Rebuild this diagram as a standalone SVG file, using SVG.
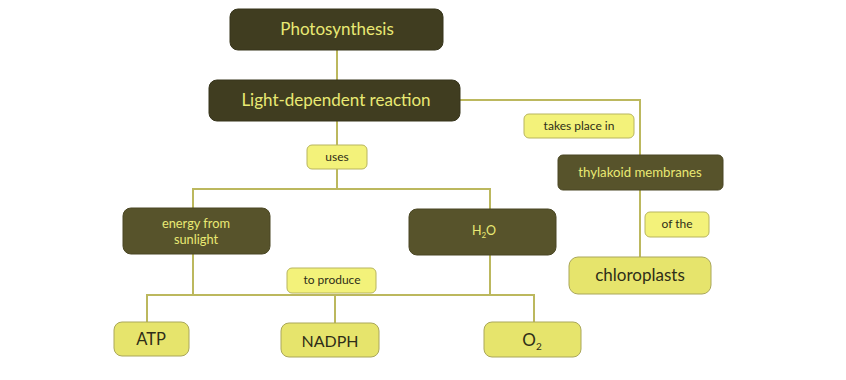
<svg xmlns="http://www.w3.org/2000/svg" width="846" height="380" viewBox="0 0 846 380">
<style>
.dark{fill:#57532b;stroke:#4a4724;stroke-width:1}
.top{fill:#403d20;stroke:#36341b;stroke-width:1}
.light{fill:#e6e46c;stroke:#aaa75a;stroke-width:1}
.lab{fill:#f3f27a;stroke:#b8b55e;stroke-width:1}
.conn{fill:none;stroke:#bcb85e;stroke-width:2}
text{font-family:"Lato","Liberation Sans",sans-serif;text-anchor:middle}
.td{fill:#e9e974}
.tl{fill:#2f2e18}
</style>
<rect width="846" height="380" fill="#ffffff"/>
<g id="connectors">
<path class="conn" d="M337 50V80"/>
<path class="conn" d="M460 100H640V155"/>
<path class="conn" d="M640 190V257"/>
<path class="conn" d="M337 121V145"/>
<path class="conn" d="M337 169V189"/>
<path class="conn" d="M193 208V189H490V209"/>
<path class="conn" d="M193 254V295"/>
<path class="conn" d="M490 255V295"/>
<path class="conn" d="M147 322V295H534V322"/>
<path class="conn" d="M335 295V323"/>
</g>
<g id="photosynthesis"><rect class="top" x="230" y="9" width="213" height="41" rx="8"/><text class="td" x="337" y="35" font-size="17">Photosynthesis</text></g>
<g id="light-dependent"><rect class="top" x="209" y="80" width="251" height="41" rx="8"/><text class="td" x="336" y="106" font-size="17">Light-dependent reaction</text></g>
<g id="takes-place-in"><rect class="lab" x="524" y="114" width="110" height="24" rx="5"/><text class="tl" x="579" y="130" font-size="12">takes place in</text></g>
<g id="thylakoid"><rect class="dark" x="558" y="155" width="165" height="35" rx="5"/><text class="td" x="640" y="177" font-size="13.2">thylakoid membranes</text></g>
<g id="of-the"><rect class="lab" x="645" y="212" width="64" height="25" rx="5"/><text class="tl" x="677" y="228" font-size="12">of the</text></g>
<g id="chloroplasts"><rect class="light" x="569" y="257" width="142" height="37" rx="9"/><text class="tl" x="640" y="281" font-size="17">chloroplasts</text></g>
<g id="uses"><rect class="lab" x="307" y="145" width="60" height="24" rx="5"/><text class="tl" x="337" y="161" font-size="12">uses</text></g>
<g id="energy"><rect class="dark" x="123" y="208" width="147" height="46" rx="8"/><text class="td" x="196" y="228" font-size="12.8">energy from</text><text class="td" x="196" y="244" font-size="12.8">sunlight</text></g>
<g id="h2o"><rect class="dark" x="409" y="209" width="147" height="46" rx="8"/><text class="td" x="484" y="235" font-size="12.5">H<tspan font-size="8" dy="3">2</tspan><tspan dy="-3">O</tspan></text></g>
<g id="to-produce"><rect class="lab" x="287" y="268" width="89" height="25" rx="5"/><text class="tl" x="332" y="284" font-size="12">to produce</text></g>
<g id="atp"><rect class="light" x="114" y="322" width="75" height="34" rx="8"/><text class="tl" x="151" y="345" font-size="16.5">ATP</text></g>
<g id="nadph"><rect class="light" x="281" y="323" width="98" height="34" rx="8"/><text class="tl" x="330" y="347" font-size="16">NADPH</text></g>
<g id="o2"><rect class="light" x="484" y="322" width="97" height="35" rx="8"/><text class="tl" x="532" y="346" font-size="17">O<tspan font-size="10" dy="4">2</tspan></text></g>
</svg>
